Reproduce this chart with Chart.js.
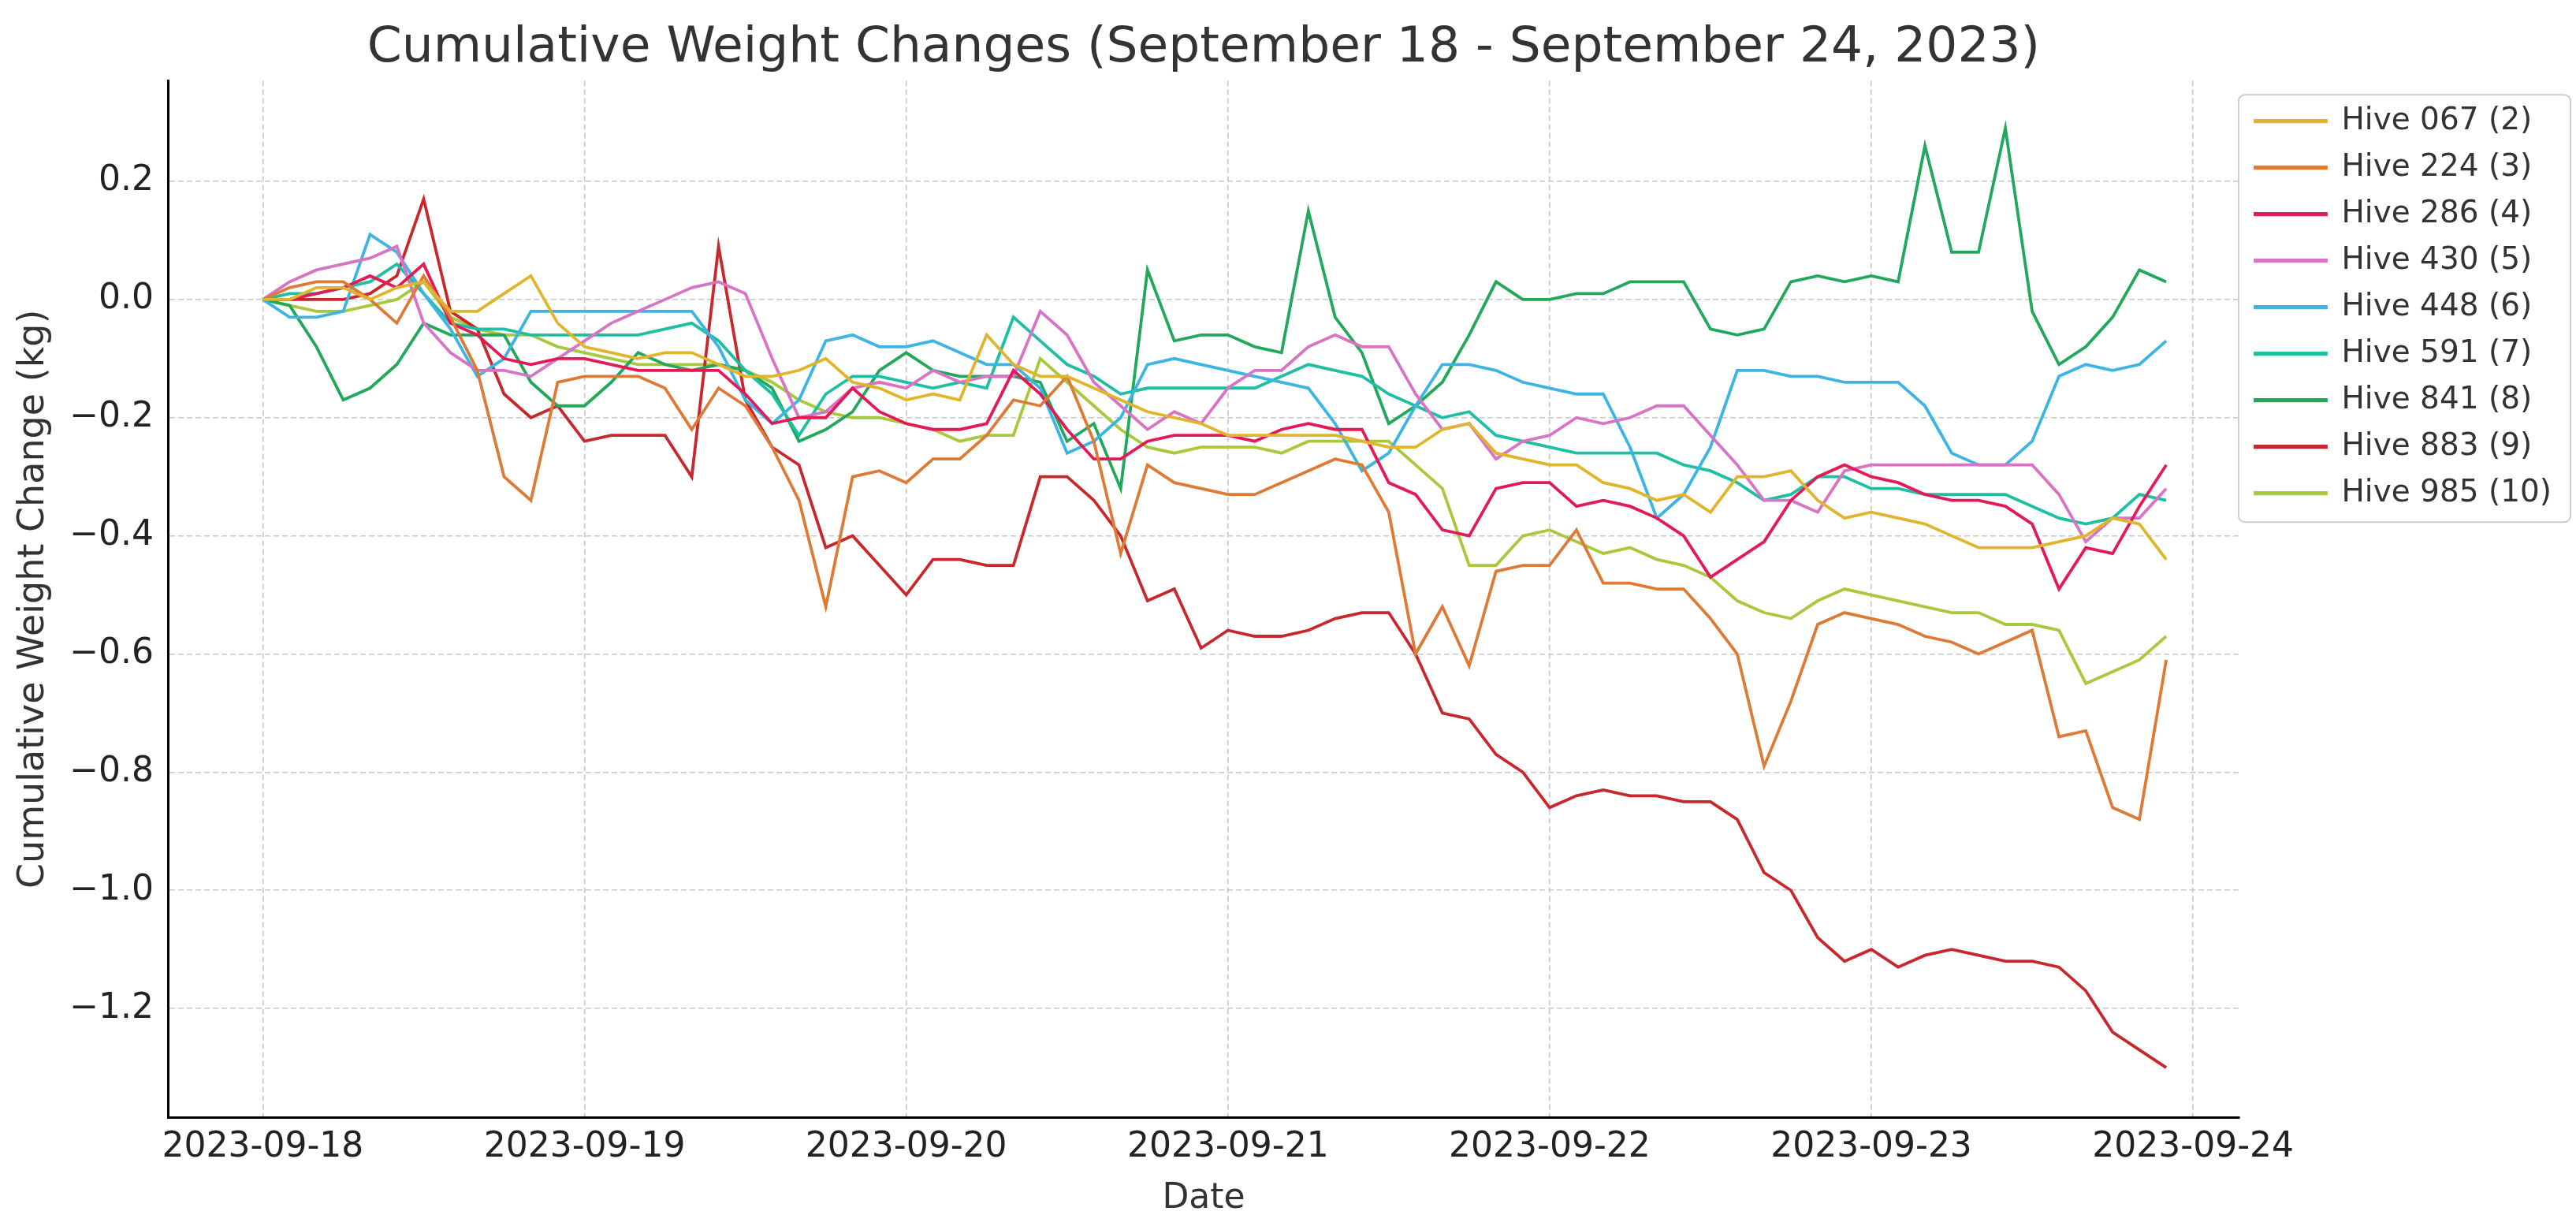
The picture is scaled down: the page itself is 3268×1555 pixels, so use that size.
<!DOCTYPE html>
<html>
<head>
<meta charset="utf-8">
<script src="https://cdn.jsdelivr.net/npm/chart.js@4.4.0/dist/chart.umd.min.js"></script>
<style>
  html, body { margin: 0; padding: 0; background: #fff; }
  canvas { display: block; }
</style>
</head>
<body>
<canvas id="chart" width="3268" height="1555"></canvas>
<script>
// hours since 2023-09-18 00:00, one reading every 2 hours
var hours = [0, 2, 4, 6, 8, 10, 12, 14, 16, 18, 20, 22,
	24, 26, 28, 30, 32, 34, 36, 38, 40, 42, 44, 46,
	48, 50, 52, 54, 56, 58, 60, 62, 64, 66, 68, 70,
	72, 74, 76, 78, 80, 82, 84, 86, 88, 90, 92, 94,
	96, 98, 100, 102, 104, 106, 108, 110, 112, 114, 116, 118,
	120, 122, 124, 126, 128, 130, 132, 134, 136, 138, 140, 142];

var dayTicks = [0, 24, 48, 72, 96, 120, 144];
var dayLabels = ['2023-09-18', '2023-09-19', '2023-09-20', '2023-09-21', '2023-09-22', '2023-09-23', '2023-09-24'];
var yTicks = [-1.2, -1.0, -0.8, -0.6, -0.4, -0.2, 0.0, 0.2];

var hive067 = [0, 0, 0.02, 0.02, 0, 0.02, 0.03, -0.02, -0.02, 0.01, 0.04, -0.04,
	-0.08, -0.09, -0.10, -0.09, -0.09, -0.11, -0.13, -0.13, -0.12, -0.10, -0.14, -0.15,
	-0.17, -0.16, -0.17, -0.06, -0.11, -0.13, -0.13, -0.15, -0.17, -0.19, -0.20, -0.21,
	-0.23, -0.23, -0.23, -0.23, -0.23, -0.24, -0.25, -0.25, -0.22, -0.21, -0.26, -0.27,
	-0.28, -0.28, -0.31, -0.32, -0.34, -0.33, -0.36, -0.30, -0.30, -0.29, -0.34, -0.37,
	-0.36, -0.37, -0.38, -0.40, -0.42, -0.42, -0.42, -0.41, -0.40, -0.37, -0.38, -0.44];

var hive224 = [0, 0.02, 0.03, 0.03, 0, -0.04, 0.04, -0.03, -0.12, -0.30, -0.34, -0.14,
	-0.13, -0.13, -0.13, -0.15, -0.22, -0.15, -0.18, -0.25, -0.34, -0.52, -0.30, -0.29,
	-0.31, -0.27, -0.27, -0.23, -0.17, -0.18, -0.13, -0.24, -0.43, -0.28, -0.31, -0.32,
	-0.33, -0.33, -0.31, -0.29, -0.27, -0.28, -0.36, -0.60, -0.52, -0.62, -0.46, -0.45,
	-0.45, -0.39, -0.48, -0.48, -0.49, -0.49, -0.54, -0.60, -0.79, -0.68, -0.55, -0.53,
	-0.54, -0.55, -0.57, -0.58, -0.60, -0.58, -0.56, -0.74, -0.73, -0.86, -0.88, -0.61];

var hive286 = [0, 0, 0.01, 0.02, 0.04, 0.02, 0.06, -0.04, -0.06, -0.10, -0.11, -0.10,
	-0.10, -0.11, -0.12, -0.12, -0.12, -0.12, -0.16, -0.21, -0.20, -0.20, -0.15, -0.19,
	-0.21, -0.22, -0.22, -0.21, -0.12, -0.16, -0.22, -0.27, -0.27, -0.24, -0.23, -0.23,
	-0.23, -0.24, -0.22, -0.21, -0.22, -0.22, -0.31, -0.33, -0.39, -0.40, -0.32, -0.31,
	-0.31, -0.35, -0.34, -0.35, -0.37, -0.40, -0.47, -0.44, -0.41, -0.34, -0.30, -0.28,
	-0.30, -0.31, -0.33, -0.34, -0.34, -0.35, -0.38, -0.49, -0.42, -0.43, -0.35, -0.28];

var hive430 = [0, 0.03, 0.05, 0.06, 0.07, 0.09, -0.04, -0.09, -0.12, -0.12, -0.13, -0.10,
	-0.07, -0.04, -0.02, 0, 0.02, 0.03, 0.01, -0.10, -0.20, -0.19, -0.15, -0.14,
	-0.15, -0.12, -0.14, -0.13, -0.13, -0.02, -0.06, -0.14, -0.18, -0.22, -0.19, -0.21,
	-0.15, -0.12, -0.12, -0.08, -0.06, -0.08, -0.08, -0.16, -0.22, -0.21, -0.27, -0.24,
	-0.23, -0.20, -0.21, -0.20, -0.18, -0.18, -0.23, -0.28, -0.34, -0.34, -0.36, -0.29,
	-0.28, -0.28, -0.28, -0.28, -0.28, -0.28, -0.28, -0.33, -0.41, -0.37, -0.37, -0.32];

var hive448 = [0, -0.03, -0.03, -0.02, 0.11, 0.08, 0.01, -0.05, -0.13, -0.10, -0.02, -0.02,
	-0.02, -0.02, -0.02, -0.02, -0.02, -0.08, -0.17, -0.21, -0.17, -0.07, -0.06, -0.08,
	-0.08, -0.07, -0.09, -0.11, -0.11, -0.15, -0.26, -0.24, -0.20, -0.11, -0.10, -0.11,
	-0.12, -0.13, -0.14, -0.15, -0.21, -0.29, -0.26, -0.18, -0.11, -0.11, -0.12, -0.14,
	-0.15, -0.16, -0.16, -0.25, -0.37, -0.33, -0.25, -0.12, -0.12, -0.13, -0.13, -0.14,
	-0.14, -0.14, -0.18, -0.26, -0.28, -0.28, -0.24, -0.13, -0.11, -0.12, -0.11, -0.07];

var hive591 = [0, 0.01, 0.01, 0.02, 0.03, 0.06, 0.01, -0.04, -0.05, -0.05, -0.06, -0.06,
	-0.06, -0.06, -0.06, -0.05, -0.04, -0.07, -0.12, -0.16, -0.23, -0.16, -0.13, -0.13,
	-0.14, -0.15, -0.14, -0.15, -0.03, -0.07, -0.11, -0.13, -0.16, -0.15, -0.15, -0.15,
	-0.15, -0.15, -0.13, -0.11, -0.12, -0.13, -0.16, -0.18, -0.20, -0.19, -0.23, -0.24,
	-0.25, -0.26, -0.26, -0.26, -0.26, -0.28, -0.29, -0.31, -0.34, -0.33, -0.30, -0.30,
	-0.32, -0.32, -0.33, -0.33, -0.33, -0.33, -0.35, -0.37, -0.38, -0.37, -0.33, -0.34];

var hive841 = [0, -0.01, -0.08, -0.17, -0.15, -0.11, -0.04, -0.06, -0.06, -0.06, -0.14, -0.18,
	-0.18, -0.14, -0.09, -0.11, -0.12, -0.11, -0.12, -0.15, -0.24, -0.22, -0.19, -0.12,
	-0.09, -0.12, -0.13, -0.13, -0.13, -0.14, -0.24, -0.21, -0.32, 0.05, -0.07, -0.06,
	-0.06, -0.08, -0.09, 0.15, -0.03, -0.09, -0.21, -0.18, -0.14, -0.06, 0.03, 0,
	0, 0.01, 0.01, 0.03, 0.03, 0.03, -0.05, -0.06, -0.05, 0.03, 0.04, 0.03,
	0.04, 0.03, 0.26, 0.08, 0.08, 0.29, -0.02, -0.11, -0.08, -0.03, 0.05, 0.03];

var hive883 = [0, 0, 0, 0, 0.01, 0.04, 0.17, -0.02, -0.05, -0.16, -0.20, -0.18,
	-0.24, -0.23, -0.23, -0.23, -0.30, 0.09, -0.17, -0.25, -0.28, -0.42, -0.40, -0.45,
	-0.50, -0.44, -0.44, -0.45, -0.45, -0.30, -0.30, -0.34, -0.40, -0.51, -0.49, -0.59,
	-0.56, -0.57, -0.57, -0.56, -0.54, -0.53, -0.53, -0.60, -0.70, -0.71, -0.77, -0.80,
	-0.86, -0.84, -0.83, -0.84, -0.84, -0.85, -0.85, -0.88, -0.97, -1.00, -1.08, -1.12,
	-1.10, -1.13, -1.11, -1.10, -1.11, -1.12, -1.12, -1.13, -1.17, -1.24, -1.27, -1.30];

var hive985 = [0, -0.01, -0.02, -0.02, -0.01, 0, 0.03, -0.03, -0.05, -0.06, -0.06, -0.08,
	-0.09, -0.10, -0.11, -0.11, -0.11, -0.11, -0.12, -0.14, -0.17, -0.19, -0.20, -0.20,
	-0.21, -0.22, -0.24, -0.23, -0.23, -0.10, -0.14, -0.18, -0.22, -0.25, -0.26, -0.25,
	-0.25, -0.25, -0.26, -0.24, -0.24, -0.24, -0.24, -0.28, -0.32, -0.45, -0.45, -0.40,
	-0.39, -0.41, -0.43, -0.42, -0.44, -0.45, -0.47, -0.51, -0.53, -0.54, -0.51, -0.49,
	-0.50, -0.51, -0.52, -0.53, -0.53, -0.55, -0.55, -0.56, -0.65, -0.63, -0.61, -0.57];

var series = [
	['Hive 067 (2)', hive067, '#E2B42B'],
	['Hive 224 (3)', hive224, '#DD7B36'],
	['Hive 286 (4)', hive286, '#E31A55'],
	['Hive 430 (5)', hive430, '#D873C5'],
	['Hive 448 (6)', hive448, '#3DB5E3'],
	['Hive 591 (7)', hive591, '#1EBFA5'],
	['Hive 841 (8)', hive841, '#22A85B'],
	['Hive 883 (9)', hive883, '#C8282B'],
	['Hive 985 (10)', hive985, '#A8C93C']
];

var datasets = series.map(function (s) {
	return {
		label: s[0],
		data: hours.map(function (h, i) { return {x: h, y: s[1][i]}; }),
		borderColor: s[2],
		backgroundColor: s[2],
		borderWidth: 3.8,
		pointRadius: 0,
		tension: 0,
		fill: false
	};
});

// box round the legend, like the original frame
var legendFrame = {
	id: 'legendFrame',
	afterDraw: function (chart) {
		var boxes = chart.legend.legendHitBoxes;
		if (!boxes || !boxes.length) return;
		var l = Infinity, t = Infinity, r = -Infinity, b = -Infinity;
		boxes.forEach(function (h) {
			l = Math.min(l, h.left); t = Math.min(t, h.top);
			r = Math.max(r, h.left + h.width); b = Math.max(b, h.top + h.height);
		});
		l -= 21; t -= 14; r += 24; b += 17;
		var c = chart.ctx;
		c.save();
		c.strokeStyle = '#cccccc';
		c.lineWidth = 2;
		c.beginPath();
		c.roundRect(l, t, r - l, b - t, 8);
		c.stroke();
		c.restore();
	}
};

var textColor = '#333333';
var ctx = document.getElementById('chart').getContext('2d');
var chart = new Chart(ctx, {
	type: 'line',
	data: {datasets: datasets},
	plugins: [legendFrame],
	options: {
		responsive: false,
		animation: false,
		devicePixelRatio: 1,
		layout: {padding: {left: 0, right: 21, top: 0, bottom: 0}},
		plugins: {
			title: {
				display: true,
				fullSize: false,
				text: 'Cumulative Weight Changes (September 18 - September 24, 2023)',
				color: textColor,
				font: {family: 'DejaVu Sans', size: 63, weight: 'normal'},
				padding: {top: 24, bottom: 3}
			},
			legend: {
				position: 'right',
				align: 'start',
				fullSize: false,
				title: {display: true, text: ' ', font: {size: 8}, padding: {top: 0, bottom: 2}},
				labels: {
					color: textColor,
					font: {family: 'DejaVu Sans', size: 39},
					boxWidth: 90,
					boxHeight: 1.5,
					padding: 20
				}
			},
			tooltip: {enabled: false}
		},
		scales: {
			x: {
				type: 'linear',
				min: -7.08,
				max: 147.46,
				afterBuildTicks: function (scale) {
					scale.ticks = dayTicks.map(function (v) { return {value: v}; });
				},
				afterFit: function (scale) { scale.height = 138; },
				ticks: {
					color: '#222222',
					font: {family: 'DejaVu Sans', size: 44},
					padding: 12,
					maxRotation: 0,
					autoSkip: false,
					callback: function (v) { return dayLabels[dayTicks.indexOf(v)]; }
				},
				grid: {color: '#c8c8c8', lineWidth: 1.6, drawTicks: false},
				border: {display: true, color: '#000000', width: 3, dash: [7, 4]},
				title: {
					display: true,
					text: 'Date',
					color: textColor,
					font: {family: 'DejaVu Sans', size: 44},
					padding: {top: 0, bottom: 8}
				}
			},
			y: {
				type: 'linear',
				min: -1.384,
				max: 0.37,
				afterBuildTicks: function (scale) {
					scale.ticks = yTicks.map(function (v) { return {value: v}; });
				},
				afterFit: function (scale) { scale.width = 213; },
				ticks: {
					color: '#222222',
					font: {family: 'DejaVu Sans', size: 44},
					padding: 18,
					callback: function (v) { return (v < -0.001 ? '\u2212' : '') + Math.abs(v).toFixed(1); }
				},
				grid: {color: '#c8c8c8', lineWidth: 1.6, drawTicks: false},
				border: {display: true, color: '#000000', width: 3, dash: [7, 4]},
				title: {
					display: true,
					text: 'Cumulative Weight Change (kg)',
					color: textColor,
					font: {family: 'DejaVu Sans', size: 46},
					padding: {top: 15, bottom: 0}
				}
			}
		}
	}
});
</script>
</body>
</html>
